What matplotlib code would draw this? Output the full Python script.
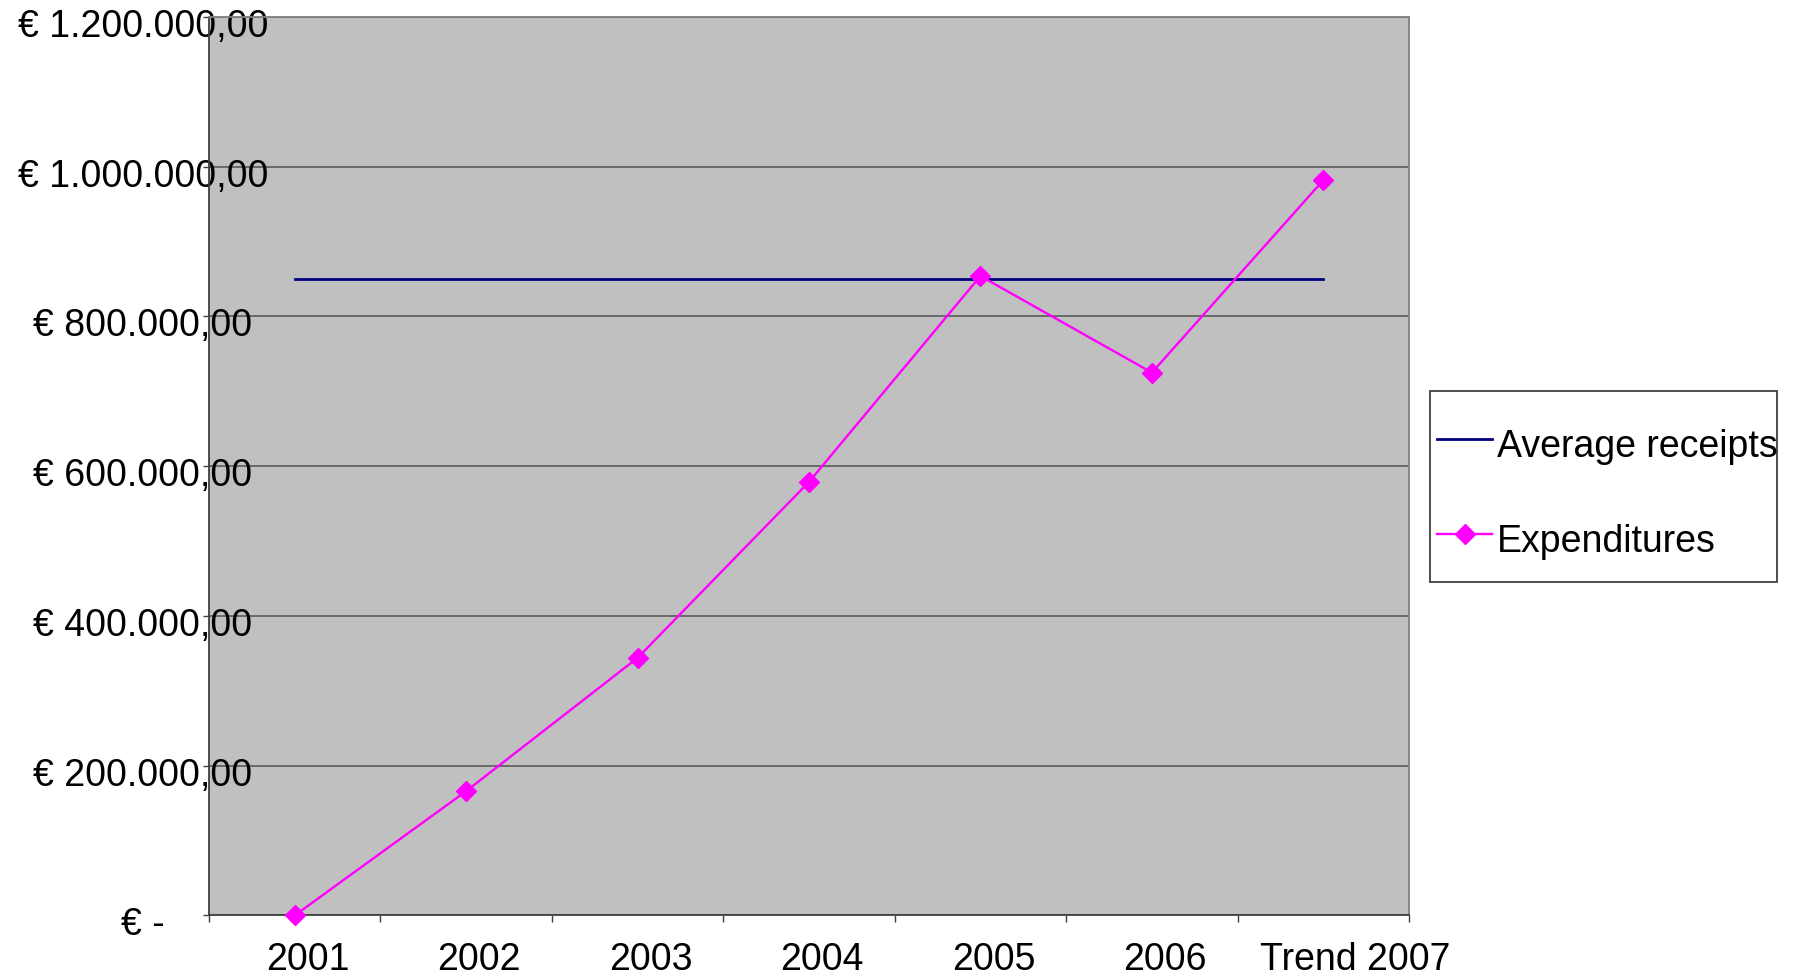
import matplotlib
matplotlib.use("Agg")
import matplotlib.pyplot as plt
from matplotlib.lines import Line2D
from matplotlib.patches import Rectangle
from matplotlib.ticker import FuncFormatter, FixedLocator
import matplotlib.transforms as mtransforms

plt.rcParams['font.family'] = ['Liberation Sans', 'DejaVu Sans']

categories = ['2001', '2002', '2003', '2004', '2005', '2006', 'Trend 2007']
expenditures = [0, 166000, 344000, 579000, 854000, 725000, 982000]
average_receipts = [850500, 850500, 850500, 850500, 850500, 850500, 850500]
y_ticks = [0, 200000, 400000, 600000, 800000, 1000000, 1200000]

W, H, DPI = 1793, 980, 100
FS = 27
fig = plt.figure(figsize=(W / DPI, H / DPI), dpi=DPI)
ax = fig.add_axes([209 / W, (H - 915.4) / H, 1200 / W, (915.4 - 17) / H])
ax.set_facecolor('#C0C0C0')

x = [i + 0.5 for i in range(len(categories))]
ax.plot(x, average_receipts, color='#000080', lw=2.0, zorder=3)
ax.plot(x, expenditures, color='#FF00FF', lw=1.7, marker='D', ms=10.5,
        mec='#FF00FF', mfc='#FF00FF', zorder=4, clip_on=False)

ax.set_xlim(0, len(categories))
ax.set_ylim(0, 1200000)


def euro(v, pos=None):
    if v == 0:
        return '€ -'
    s = f"{int(round(v)):,}".replace(',', '.')
    return f"€ {s},00"


ax.yaxis.set_major_locator(FixedLocator(y_ticks))
ax.yaxis.set_major_formatter(FuncFormatter(euro))
ax.grid(axis='y', color='#5a5a5a', lw=1.2, zorder=1)
ax.set_axisbelow(True)

ax.tick_params(axis='y', direction='out', length=4.5, width=1, color='#404040',
               labelsize=FS, pad=43)
for lab in ax.get_yticklabels():
    lab.set_horizontalalignment('center')
    lab.set_transform(lab.get_transform() +
                      mtransforms.ScaledTranslation(0, -6 / DPI, fig.dpi_scale_trans))

# category labels at centres, tick marks at boundaries
ax.set_xticks(x)
ax.set_xticklabels(categories)
ax.set_xticks(range(len(categories) + 1), minor=True)
ax.tick_params(axis='x', which='major', length=0, labelsize=FS, pad=19)
ax.tick_params(axis='x', which='minor', direction='out', length=5, width=1, color='#404040')
xlabels = ax.get_xticklabels()
for i, lab in enumerate(xlabels):
    dx = 32 if i == len(xlabels) - 1 else 13
    lab.set_transform(lab.get_transform() +
                      mtransforms.ScaledTranslation(dx / DPI, 0, fig.dpi_scale_trans))

for side in ('left', 'bottom'):
    ax.spines[side].set_color('#404040')
    ax.spines[side].set_linewidth(1.3)
for side in ('top', 'right'):
    ax.spines[side].set_color('#808080')
    ax.spines[side].set_linewidth(1.3)

# legend box drawn in pixel coordinates of the figure
def px(xp, yp):
    return xp / W, (H - yp) / H

lx0, ly0, lx1, ly1 = 1430, 391, 1777, 582
fig.add_artist(Rectangle(px(lx0, ly1), (lx1 - lx0) / W, (ly1 - ly0) / H,
                         transform=fig.transFigure, facecolor='white',
                         edgecolor='#404040', lw=1.3))
entries = [
    ('Average receipts', '#000080', None, 2.0, 439),
    ('Expenditures', '#FF00FF', 'D', 1.7, 534),
]
for label, color, marker, lw, yl in entries:
    xa, ya = px(1437, yl)
    xb, _ = px(1492, yl)
    fig.add_artist(Line2D([xa, xb], [ya, ya], transform=fig.transFigure,
                          color=color, lw=lw))
    if marker:
        fig.add_artist(Line2D([(xa + xb) / 2], [ya], transform=fig.transFigure,
                              color=color, marker=marker, ms=10.5, lw=0))
    tx, ty = px(1497, yl + 8)
    fig.text(tx, ty, label, fontsize=FS, va='center', ha='left')

fig.savefig('out.png', dpi=DPI)
